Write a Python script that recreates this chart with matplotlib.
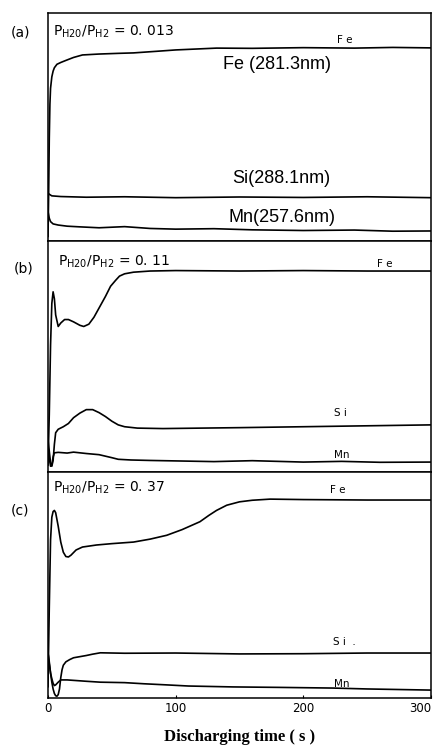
import matplotlib
matplotlib.use("Agg")
import matplotlib.pyplot as plt

# ---- data ----
# panel (a)  P_H2O/P_H2 = 0.013
fe_a_t = [0, 0.5, 1, 1.5, 2, 3, 4, 5, 7, 10, 14, 20, 27, 40, 55, 67, 85, 100, 132, 160, 200, 240, 270, 300]
fe_a_v = [2, 20, 45, 60, 67, 72, 74.5, 76, 77.5, 78.3, 79.2, 80.5, 81.6, 82, 82.3, 82.5, 83.2, 83.8, 84.6, 84.5, 84.8, 84.6, 84.9, 84.7]
si_a_t = [0, 1, 3, 10, 30, 60, 100, 150, 200, 250, 300]
si_a_v = [21, 20.5, 19.8, 19.5, 19.2, 19.4, 19.0, 19.3, 19.1, 19.4, 19.0]
mn_a_t = [0, 1, 2, 4, 8, 15, 25, 40, 60, 80, 100, 130, 160, 200, 240, 270, 300]
mn_a_v = [13, 10, 8.5, 7.5, 7, 6.5, 6.2, 5.8, 6.3, 5.5, 5.2, 5.4, 4.9, 4.6, 4.8, 4.3, 4.4]

# panel (b)  P_H2O/P_H2 = 0.11
fe_b_t = [0, 1, 2, 3, 4, 5, 6, 8, 10, 13, 16, 20, 25, 28, 32, 36, 41, 45, 49, 53, 56, 60, 67, 80, 100, 150, 200, 250, 300]
fe_b_v = [3, 25, 55, 73, 78, 75, 68, 63, 64.5, 66, 66, 65, 63.5, 63, 64, 67, 72, 76, 80.4, 83, 84.8, 85.8, 86.5, 87, 87.2, 87, 87.2, 87, 87]
si_b_t = [0, 1, 2, 3, 4, 5, 6, 8, 12, 16, 20, 25, 30, 35, 40, 45, 50, 55, 60, 70, 90, 120, 150, 200, 250, 300]
si_b_v = [14, 9, 4, 2.5, 5, 12, 17, 18.5, 19.6, 21, 23.5, 25.5, 27, 27, 25.7, 24, 22, 20.4, 19.6, 19, 18.8, 19, 19.2, 19.6, 20, 20.4]
mn_b_t = [0, 1, 2, 3, 4, 5, 8, 15, 20, 30, 40, 50, 55, 65, 80, 100, 130, 160, 200, 230, 260, 300]
mn_b_v = [11, 6, 2.5, 3, 6.5, 8.3, 8.5, 8.2, 8.6, 8.0, 7.5, 6.2, 5.5, 5.2, 5.0, 4.8, 4.5, 4.9, 4.3, 4.6, 4.2, 4.3]

# panel (c)  P_H2O/P_H2 = 0.37
fe_c_t = [0, 1, 2, 3, 4, 5, 6, 8, 10, 12, 14, 16, 18, 22, 27, 38, 50, 67, 80, 93, 105, 119, 126, 132, 140, 150, 160, 174, 200, 250, 300]
fe_c_v = [5, 40, 70, 80, 82.5, 83, 82, 76, 69, 64.5, 62.6, 62.4, 63.2, 65.5, 66.8, 67.7, 68.3, 69, 70.3, 72, 74.5, 78, 80.8, 83, 85.3, 86.8, 87.5, 88, 87.8, 87.6, 87.6]
si_c_t = [0, 1, 2, 3, 4, 5, 6, 7, 8, 9, 10, 11, 12, 14, 17, 20, 25, 30, 35, 41, 60, 100, 150, 200, 250, 300]
si_c_v = [20, 16, 11, 7, 4, 2, 1, 0.8, 1.5, 4, 9, 12.5, 14.5, 16, 17, 17.8, 18.3, 18.8, 19.4, 20, 19.8, 19.9, 19.5, 19.6, 19.9, 19.9]
mn_c_t = [0, 1, 2, 3, 4, 5, 6, 8, 10, 15, 20, 30, 41, 60, 75, 93, 110, 145, 180, 223, 250, 270, 300]
mn_c_v = [20, 15, 11, 8.5, 6.5, 5.5, 5.8, 7, 8, 8, 7.8, 7.4, 7, 6.8, 6.3, 5.8, 5.3, 4.9, 4.7, 4.4, 4.0, 3.8, 3.5]

panel_tags = ["(a)", "(b)", "(c)"]
ratio_vals = ["0. 013", "0. 11", "0. 37"]
x_ticks = [0, 100, 200, 300]

# ---- figure ----
fig = plt.figure(figsize=(4.4, 7.47), dpi=100)
W, H = 440.0, 747.0
left, right = 48 / W, 431 / W
edges = [13, 241, 472, 698]  # pixel rows of panel borders

axes = []
for i in range(3):
    y0 = 1 - edges[i + 1] / H
    h = (edges[i + 1] - edges[i]) / H
    ax = fig.add_axes([left, y0, right - left, h])
    ax.set_xlim(0, 300)
    ax.set_ylim(0, 100)
    ax.set_yticks([])
    for s in ax.spines.values():
        s.set_linewidth(1.1)
    axes.append(ax)

series = [
    [(fe_a_t, fe_a_v), (si_a_t, si_a_v), (mn_a_t, mn_a_v)],
    [(fe_b_t, fe_b_v), (si_b_t, si_b_v), (mn_b_t, mn_b_v)],
    [(fe_c_t, fe_c_v), (si_c_t, si_c_v), (mn_c_t, mn_c_v)],
]
for ax, group in zip(axes, series):
    for t, v in group:
        ax.plot(t, v, color="black", lw=1.2)

for ax in axes[:2]:
    ax.set_xticks([])
axes[2].set_xticks(x_ticks)
axes[2].set_xticklabels([str(x) for x in x_ticks], fontsize=8.5)
axes[2].tick_params(axis="x", direction="in", length=2, pad=3)
# last label would run past the figure edge
axes[2].get_xticklabels()[-1].set_horizontalalignment("right")

# ratio annotations
ratio_pos = [(3.9, 91.7), (7.8, 90.9), (3.9, 92.9)]
for ax, val, (tx, ty) in zip(axes, ratio_vals, ratio_pos):
    ax.text(tx, ty, r"P$_{\mathrm{H20}}$/P$_{\mathrm{H2}}$ = " + val,
            fontsize=10, ha="left", va="center")

# panel tags
tag_px = [(20, 33), (24, 268), (20, 510)]
for tag, (px, py) in zip(panel_tags, tag_px):
    fig.text(px / W, 1 - py / H, tag, fontsize=10, ha="center", va="center")

# small element labels
small = dict(fontsize=7.5, ha="center", va="center")
axes[0].text(232.6, 88.2, "F e", **small)
axes[1].text(264, 90, "F e", **small)
axes[1].text(228.7, 25.5, "S i", **small)
axes[1].text(230, 7.4, "Mn", **small)
axes[2].text(227, 92, "F e", **small)
axes[2].text(232, 24.8, "S i  .", **small)
axes[2].text(230, 6.2, "Mn", **small)

# big wavelength labels in panel (a)
big = dict(fontsize=13, ha="left", va="center", family="Liberation Sans")
axes[0].text(137, 77.2, "Fe (281.3nm)", **big)
axes[0].text(144, 27.6, "Si(288.1nm)", **big)
axes[0].text(141, 10.5, "Mn(257.6nm)", **big)

fig.text(240 / W, 1 - 737 / H, "Discharging time ( s )", fontsize=12,
         family="Liberation Serif", weight="bold", ha="center", va="center")

fig.savefig("out.png", dpi=100)
